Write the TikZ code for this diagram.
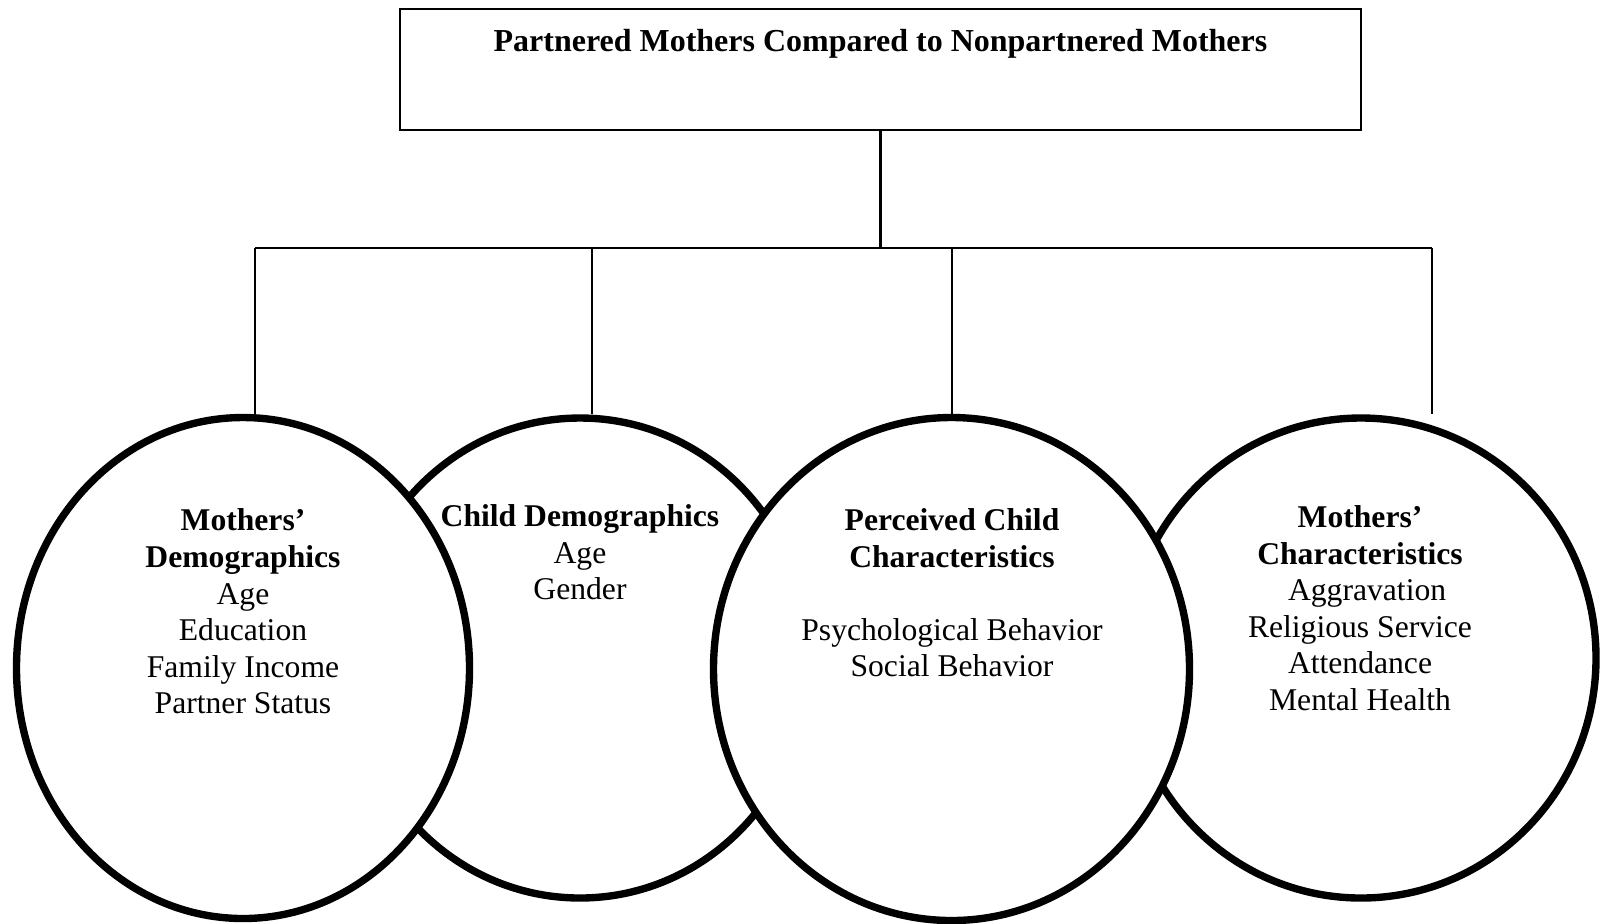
\documentclass[tikz,border=0pt]{standalone}
\usepackage{fontspec}
\setmainfont{Liberation Serif}
\usepackage{tikz}
\usetikzlibrary{shapes.geometric}

\begin{document}
\begin{tikzpicture}[
    bubble/.style={draw=black, ellipse, line width=2.1pt, fill=white},
    txt/.style={align=center, inner sep=0pt, font=\fontsize{9pt}{10.4pt}\selectfont},
    every edge/.style={draw, line width=0.6pt}
  ]
    \useasboundingbox (0,0) rectangle (16,-9.23);
    \node[draw=black, line width=0.6pt, minimum width=9.61cm, minimum height=1.21cm,
      text height=0.25cm, text depth=0.62cm, font=\fontsize{9.1pt}{10.4pt}\selectfont\bfseries]
      (T) at (8.805,-0.695) {Partnered Mothers Compared to Nonpartnered Mothers};
    % back row first, so the front ones cover them
    \node[bubble, minimum width=4.6cm, minimum height=4.8cm] (C2) at (5.80,-6.58) {};
    \node[bubble, minimum width=4.7cm, minimum height=4.8cm] (C4) at (13.61,-6.58) {};
    \node[bubble, minimum width=4.53cm, minimum height=5.01cm] (C1) at (2.43,-6.68) {};
    \node[bubble, minimum width=4.76cm, minimum height=5.03cm] (C3) at (9.515,-6.69) {};
    \node[txt] (L1) at (2.43,-6.115) {\textbf{Mothers’}\\\textbf{Demographics}\\Age\\Education\\Family Income\\Partner Status};
    \node[txt] (L2) at (5.80,-5.525) {\textbf{Child Demographics}\\Age\\Gender};
    \node[txt] (L3) at (9.52,-5.93) {\textbf{Perceived Child}\\\textbf{Characteristics}\\[10.4pt]Psychological Behavior\\Social Behavior};
    \node[txt] (L4) at (13.60,-6.08) {\textbf{Mothers’}\\\textbf{Characteristics}\\\hspace*{0.45em}Aggravation\\Religious Service\\Attendance\\Mental Health};
    \coordinate (H) at (8.805,-2.48);
    \coordinate (B1) at (2.55,-2.48);
    \coordinate (B2) at (5.92,-2.48);
    \coordinate (B3) at (9.52,-2.48);
    \coordinate (B4) at (14.32,-2.48);
    \path (T) edge (H);
    \path (B1) edge (B4);
    \path (B1) edge (B1 |- C1.north);
    \path (B2) edge (B2 |- C2.north);
    \path (B3) edge (B3 |- C3.north);
    \path (B4) edge (B4 |- C4.north);
  \end{tikzpicture}
\end{document}
